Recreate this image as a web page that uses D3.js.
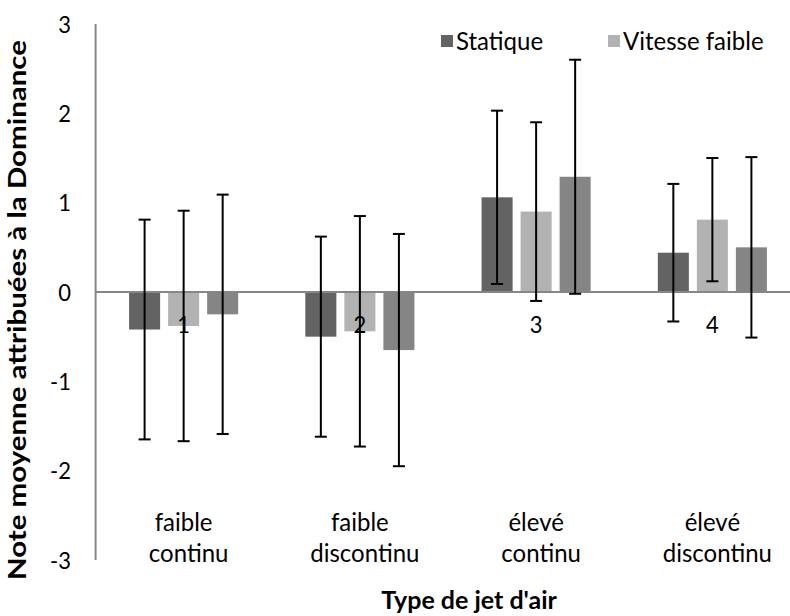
<!DOCTYPE html>
<html>
<head>
<meta charset="utf-8">
<script src="https://cdn.jsdelivr.net/npm/d3@7"></script>
<style>
  html, body { margin: 0; padding: 0; background: #fff; }
  svg { display: block; }
  text { font-family: Lato, "Open Sans", sans-serif; fill: #000; }
</style>
</head>
<body>
<svg id="chart" width="790" height="616"></svg>
<script>
// ---- data ----
const categories = ["faible continu", "faible discontinu", "élevé continu", "élevé discontinu"];
const catLine1 = ["faible", "faible", "élevé", "élevé"];
const catLine2 = ["continu", "discontinu", "continu", "discontinu"];
const catNumbers = ["1", "2", "3", "4"];
const seriesNames = ["Statique", "Vitesse faible", "Vitesse élevée"];
const statique = [-0.42, -0.50, 1.06, 0.44];
const vitesseFaible = [-0.38, -0.44, 0.90, 0.81];
const vitesseElevee = [-0.25, -0.65, 1.29, 0.50];
const sdStatique = [1.23, 1.12, 0.97, 0.77];
const sdFaible = [1.29, 1.29, 1.00, 0.69];
const sdElevee = [1.34, 1.30, 1.31, 1.01];
const yTicks = [-3, -2, -1, 0, 1, 2, 3];
const seriesColors = ["#636363", "#b2b2b2", "#858585"];
const yTitle = "Note moyenne attribuées à la Dominance";
const xTitle = "Type de jet d'air";

const means = [statique, vitesseFaible, vitesseElevee];
const sds = [sdStatique, sdFaible, sdElevee];

// ---- layout ----
const svg = d3.select("#chart");
const plotLeft = 95.6, plotRight = 800.4, plotTop = 24, plotBottom = 560;
const fs = 24;       // label font size
const fsNum = 22;    // numeric label font size
const fsTitle = 25;  // axis title font size
const vs = 1.05;     // slight vertical stretch of the original picture

const y = d3.scaleLinear().domain([-3, 3]).range([plotBottom, plotTop]);
const x0 = d3.scaleBand().domain(categories).range([plotLeft, plotRight])
  .paddingInner(0.381).paddingOuter(0.19);
const x1 = d3.scaleBand().domain(seriesNames).range([0, x0.bandwidth()]).paddingInner(0.205);

const rows = [];
categories.forEach((c, i) => {
  seriesNames.forEach((s, j) => {
    rows.push({ cat: c, ser: s, j, v: means[j][i], sd: sds[j][i] });
  });
});

// y axis line
svg.append("line")
  .attr("x1", plotLeft).attr("x2", plotLeft)
  .attr("y1", y(3)).attr("y2", y(-3))
  .attr("stroke", "#868686").attr("stroke-width", 2);

// y tick labels
const yAxis = d3.axisLeft(y).tickValues(yTicks).tickFormat(d => String(d)).tickSize(0).tickPadding(0);
const gy = svg.append("g").attr("transform", `translate(71,0)`).call(yAxis);
gy.select(".domain").remove();
gy.selectAll("text")
  .attr("font-size", fsNum).attr("font-family", "Lato, sans-serif").attr("fill", "#000")
  .attr("dy", null).attr("dominant-baseline", "central");
gy.selectAll(".tick").each(function(d) {
  d3.select(this).attr("transform", `translate(0,${y(d)}) scale(1,${vs})`);
});

// bars
const bars = svg.append("g");
bars.selectAll("rect").data(rows).join("rect")
  .attr("x", d => x0(d.cat) + x1(d.ser))
  .attr("width", x1.bandwidth())
  .attr("y", d => Math.min(y(d.v), y(0)))
  .attr("height", d => Math.abs(y(d.v) - y(0)))
  .attr("fill", d => seriesColors[d.j]);

// zero line
svg.append("line")
  .attr("x1", plotLeft).attr("x2", plotRight)
  .attr("y1", y(0)).attr("y2", y(0))
  .attr("stroke", "#868686").attr("stroke-width", 2);

// category number labels just below zero line
const xAxis = d3.axisBottom(x0).tickFormat((d, i) => catNumbers[i]).tickSize(0).tickPadding(0);
const gx = svg.append("g").attr("transform", `translate(0,${y(0)})`).call(xAxis);
gx.select(".domain").remove();
gx.selectAll(".tick text").attr("dy", null).attr("y", 0)
  .attr("font-size", fsNum).attr("font-family", "Lato, sans-serif").attr("fill", "#000")
  .attr("transform", `translate(0,41) scale(1,${vs})`);

// error bars
const eb = svg.append("g").attr("stroke", "#000").attr("stroke-width", 2);
rows.forEach(d => {
  const cx = x0(d.cat) + x1(d.ser) + x1.bandwidth() / 2;
  const yt = y(d.v + d.sd), yb = y(d.v - d.sd);
  eb.append("line").attr("x1", cx).attr("x2", cx).attr("y1", yt).attr("y2", yb);
  eb.append("line").attr("x1", cx - 6).attr("x2", cx + 6).attr("y1", yt).attr("y2", yt);
  eb.append("line").attr("x1", cx - 6).attr("x2", cx + 6).attr("y1", yb).attr("y2", yb);
});

// category names (two lines)
const catG = svg.append("g");
categories.forEach((c, i) => {
  const cx = x0(c) + x0.bandwidth() / 2;
  catG.append("text").text(catLine1[i])
    .attr("text-anchor", "middle").attr("font-size", fs)
    .attr("transform", `translate(${cx},531) scale(1,${vs})`);
  catG.append("text").text(catLine2[i])
    .attr("text-anchor", "middle").attr("font-size", fs)
    .attr("transform", `translate(${cx + 5},562) scale(1,${vs})`);
});

// axis titles
svg.append("text").text(xTitle)
  .attr("text-anchor", "middle").attr("font-size", fsTitle).attr("font-weight", "bold")
  .attr("transform", `translate(469,609)`);

svg.append("text").text(yTitle)
  .attr("text-anchor", "middle").attr("font-size", fsTitle).attr("font-weight", "bold")
  .attr("textLength", 540).attr("lengthAdjust", "spacingAndGlyphs")
  .attr("transform", `translate(26,310) rotate(-90)`);

// legend (third entry falls outside the cropped frame of the original)
const legendX = [441, 608];
const lg = svg.append("g");
seriesNames.slice(0, 2).forEach((s, j) => {
  lg.append("rect").attr("x", legendX[j]).attr("y", 35).attr("width", 12).attr("height", 12)
    .attr("fill", seriesColors[j]);
  lg.append("text").text(s).attr("font-size", fs)
    .attr("transform", `translate(${legendX[j] + 15},50) scale(1,${vs})`);
});
</script>
</body>
</html>
